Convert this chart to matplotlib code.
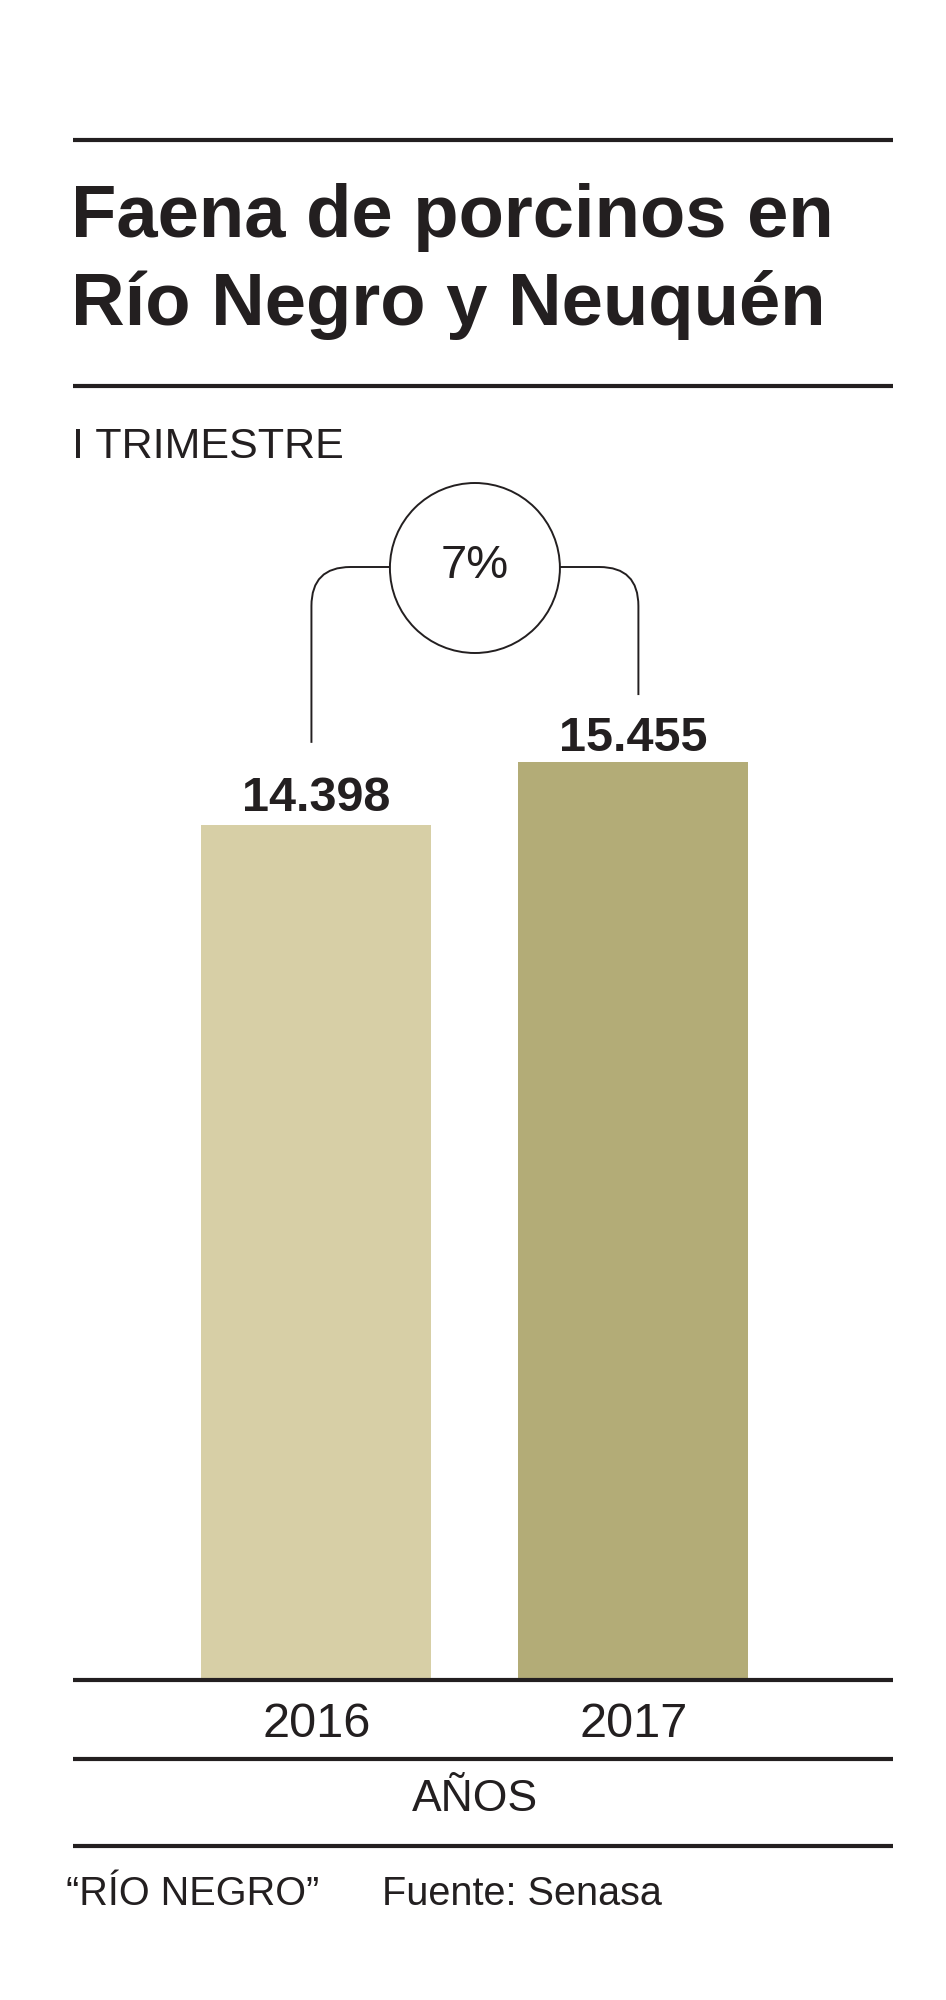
import matplotlib
matplotlib.use("Agg")
import matplotlib.pyplot as plt
from matplotlib.patches import Circle, PathPatch
from matplotlib.path import Path
from matplotlib.transforms import blended_transform_factory

# data
years = ["2016", "2017"]
faena = [14398, 15455]
variacion = "7%"
colores = ["#d7cfa6", "#b3ac77"]

titulo = ["Faena de porcinos en", "Río Negro y Neuquén"]
subtitulo = "I TRIMESTRE"
eje_x = "AÑOS"
firma = "“RÍO NEGRO”"
fuente = "Fuente: Senasa"

W, H = 946, 2000
INK = "#231f20"
SANS = ["Liberation Sans", "DejaVu Sans"]
NARROW = ["Liberation Sans Narrow", "Liberation Sans", "DejaVu Sans"]

fig = plt.figure(figsize=(W / 100, H / 100), dpi=100)
fig.patch.set_facecolor("white")

# overlay in pixel coords (top-left origin) for rules, titles and the bracket
ov = fig.add_axes([0, 0, 1, 1], zorder=0)
ov.set_xlim(0, W)
ov.set_ylim(H, 0)
ov.axis("off")

# bar chart axes
x0, x1 = 73, 893
base_y, top_y = 1680, 700
ax = fig.add_axes([x0 / W, (H - base_y) / H, (x1 - x0) / W, (base_y - top_y) / H], zorder=1)
ax.patch.set_alpha(0)

xs = list(range(len(years)))
ax.bar(xs, faena, width=0.726, color=colores, zorder=2)
ax.set_xlim(-0.768, 1.819)
ax.set_ylim(0, 16500)
for s in ["top", "right", "left"]:
    ax.spines[s].set_visible(False)
ax.spines["bottom"].set_linewidth(3)
ax.spines["bottom"].set_color(INK)
ax.spines["bottom"].set_capstyle("butt")
ax.set_yticks([])
ax.set_xticks(xs)
ax.set_xticklabels(years, fontsize=35, family=SANS, color=INK)
ax.tick_params(axis="x", length=0, pad=16)

for x, v in zip(xs, faena):
    ax.annotate(f"{v:,}".replace(",", "."), (x, v), xytext=(0, 10 if x == 0 else 8),
                textcoords="offset points", ha="center", va="baseline",
                fontsize=35, fontweight="bold", family=SANS, color=INK)

trans = blended_transform_factory(ax.transData, ax.transAxes)
ax.text(0.5, -0.122, eje_x, transform=trans, ha="center", va="center",
        fontsize=32, family=SANS, color=INK)

# horizontal rules
for y in [140, 386, 1759, 1846]:
    ov.plot([x0, x1], [y, y], color=INK, lw=3, solid_capstyle="butt")

for linea, yb in zip(titulo, [237, 325]):
    ov.text(71, yb, linea, ha="left", va="baseline", fontsize=53.5, fontweight="bold",
            family=SANS, color=INK)
ov.text(72, 458, subtitulo, ha="left", va="baseline", fontsize=31, family=SANS, color=INK)
ov.text(66, 1905, firma, ha="left", va="baseline", fontsize=28.5, family=SANS, color=INK)
ov.text(382, 1905, fuente, ha="left", va="baseline", fontsize=28.5, family=SANS, color=INK)

# bracket with the variation, anchored to the bars
pts = ax.transData.transform([(x, v) for x, v in zip(xs, faena)])
xl, yl = pts[0][0] - 5, H - pts[0][1]
xr, yr = pts[1][0] + 5, H - pts[1][1]
cx, cy, rad = (xl + xr) / 2, 568, 85
hy, r = 567, 39
gaps = [82, 67]

verts = [(xl, yl - gaps[0]), (xl, hy + r), (xl, hy), (xl + r, hy), (cx - rad, hy)]
codes = [Path.MOVETO, Path.LINETO, Path.CURVE3, Path.CURVE3, Path.LINETO]
ov.add_patch(PathPatch(Path(verts, codes), fill=False, color=INK, lw=1.4))
verts = [(xr, yr - gaps[1]), (xr, hy + r), (xr, hy), (xr - r, hy), (cx + rad, hy)]
ov.add_patch(PathPatch(Path(verts, codes), fill=False, color=INK, lw=1.4))
ov.add_patch(Circle((cx, cy), rad, fill=False, color=INK, lw=1.4))
ov.text(cx, cy - 2, variacion, ha="center", va="center", fontsize=34, family=NARROW, color=INK)

fig.savefig("out.png", dpi=100, facecolor="white")
